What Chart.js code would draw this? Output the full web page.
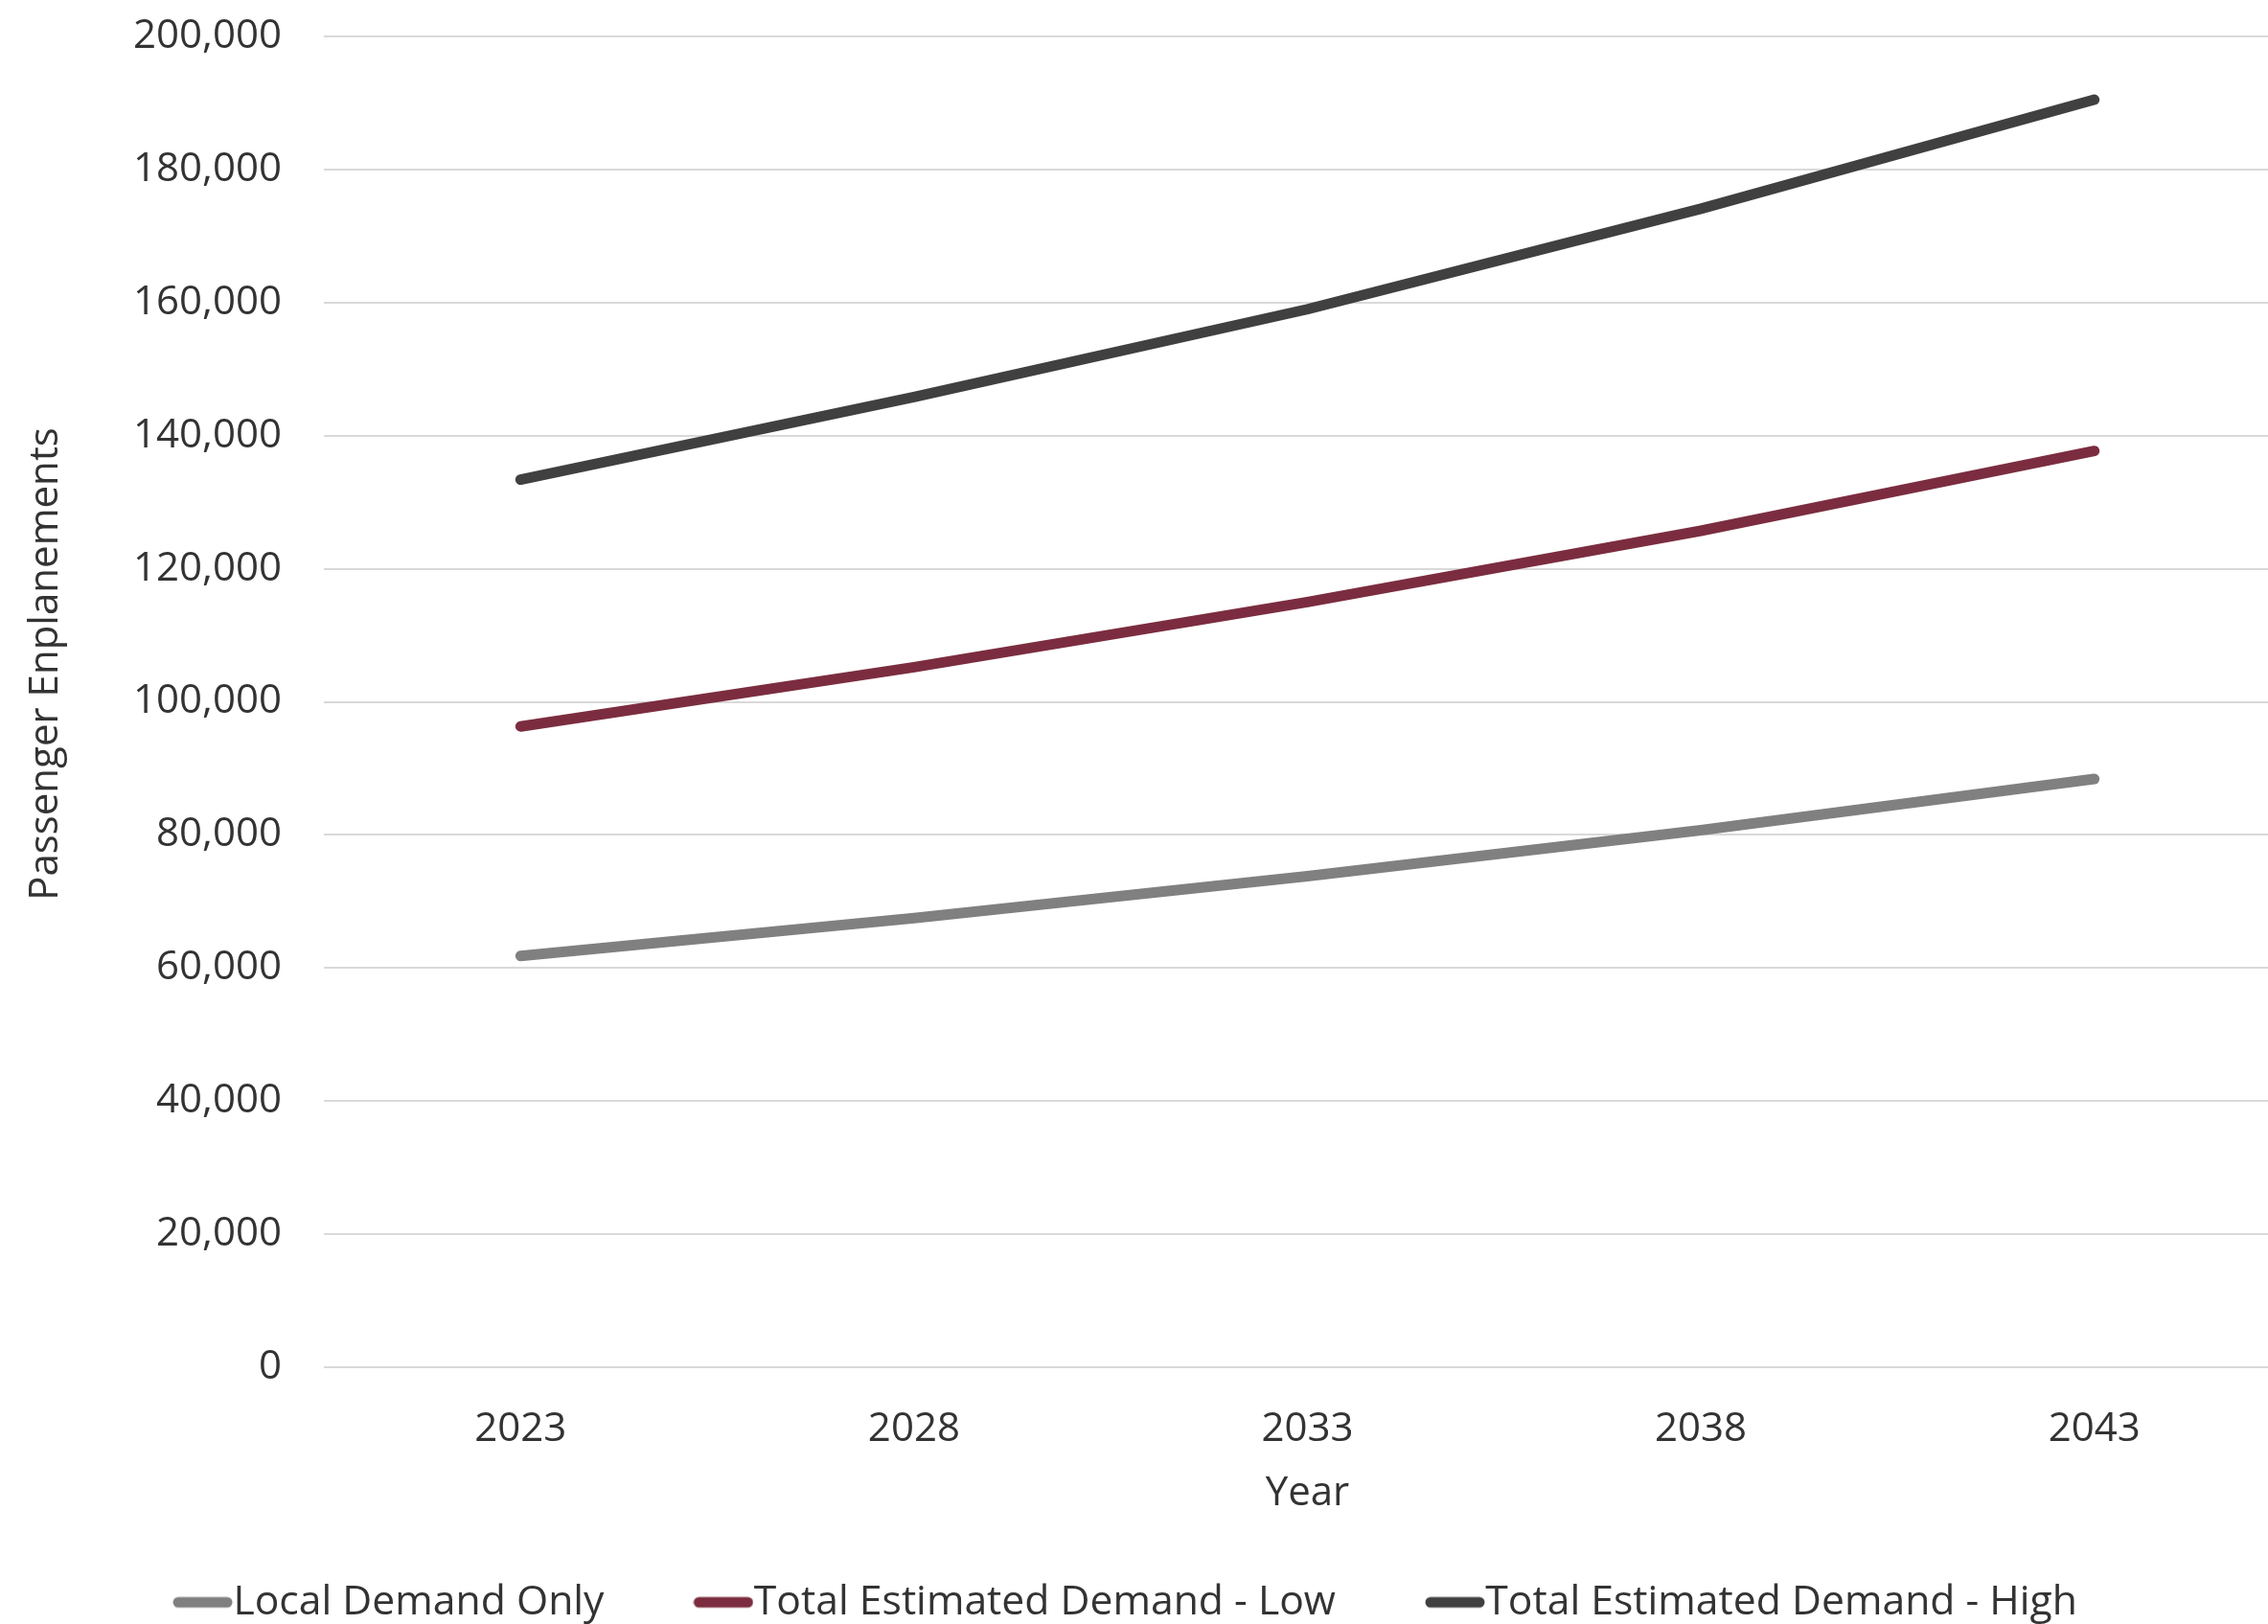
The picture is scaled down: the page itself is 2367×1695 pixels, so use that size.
<!DOCTYPE html>
<html>
<head>
<meta charset="utf-8">
<script src="https://cdn.jsdelivr.net/npm/chart.js@4/dist/chart.umd.min.js"></script>
<style>
  html, body { margin: 0; padding: 0; background: #ffffff; overflow: hidden; }
  #wrap { width: 2391px; height: 1695px; position: relative; }
</style>
</head>
<body>
<div id="wrap"><canvas id="c"></canvas></div>
<script>
const years = ['2023', '2028', '2033', '2038', '2043'];
const localDemand = [61800, 67500, 73800, 80700, 88400];
const totalLow = [96300, 105200, 115000, 125700, 137700];
const totalHigh = [133400, 145800, 159000, 174100, 190500];
const seriesNames = ['Local Demand Only', 'Total Estimated Demand - Low', 'Total Estimated Demand - High'];
const seriesColors = ['#808080', '#7b2d3f', '#404040'];
const yTicks = { min: 0, max: 200000, step: 20000 };

const FONT = "'Open Sans', 'Noto Sans', sans-serif";
const TEXT = '#333333';

// legend marker: short thick rounded line
function makeMarker(color) {
  const cv = document.createElement('canvas');
  cv.width = 63; cv.height = 14;
  const g = cv.getContext('2d');
  g.strokeStyle = color;
  g.lineWidth = 11;
  g.lineCap = 'round';
  g.beginPath();
  g.moveTo(6, 7);
  g.lineTo(57, 7);
  g.stroke();
  return cv;
}
const markers = seriesColors.map(makeMarker);

// fine placement of legend and y-axis title
const placement = {
  id: 'placement',
  afterLayout(chart) {
    const lg = chart.legend;
    if (lg) {
      lg.top -= 48; lg.bottom += 10;
      lg.left -= 11; lg.right -= 11;
    }
    const y = chart.scales.y;
    if (y) { y.bottom -= 79; }
  }
};

const seriesData = [localDemand, totalLow, totalHigh];
new Chart(document.getElementById('c'), {
  type: 'line',
  data: {
    labels: years,
    datasets: seriesNames.map((name, i) => ({
      label: name,
      data: seriesData[i],
      borderColor: seriesColors[i],
      backgroundColor: seriesColors[i],
      borderWidth: 11,
      pointRadius: 0,
      pointHoverRadius: 0,
      tension: 0,
      borderCapStyle: 'round',
      borderJoinStyle: 'round',
      fill: false
    }))
  },
  plugins: [placement],
  options: {
    responsive: true,
    maintainAspectRatio: false,
    animation: false,
    events: [],
    layout: { padding: { top: 38, left: 0, right: 0, bottom: 0 } },
    plugins: {
      tooltip: { enabled: false },
      legend: {
        position: 'bottom',
        align: 'center',
        maxHeight: 110,
        labels: {
          font: { family: FONT, size: 42.7 },
          color: TEXT,
          usePointStyle: true,
          pointStyleWidth: 21,
          boxHeight: 12,
          padding: 114,
          generateLabels(chart) {
            return Chart.defaults.plugins.legend.labels.generateLabels(chart).map(l => ({ ...l, lineWidth: 0, pointStyle: markers[l.datasetIndex] }));
          }
        }
      }
    },
    scales: {
      x: {
        offset: true,
        grid: { display: false, drawTicks: false },
        border: { display: false },
        ticks: { font: { family: FONT, size: 42 }, color: TEXT, padding: 40, maxRotation: 0 },
        title: { display: true, text: 'Year', font: { family: FONT, size: 42 }, color: TEXT, padding: { top: 0, bottom: 1 } },
        afterFit(scale) { scale.height = 158; }
      },
      y: {
        min: yTicks.min,
        max: yTicks.max,
        grid: { color: '#d9d9d9', lineWidth: 2, drawTicks: false },
        border: { display: false },
        ticks: {
          stepSize: yTicks.step,
          font: { family: FONT, size: 42 },
          color: TEXT,
          padding: 44,
          callback: v => Number(v).toLocaleString('en-US')
        },
        title: { display: true, text: 'Passenger Enplanements', font: { family: FONT, size: 42 }, color: TEXT, padding: { top: 23, bottom: 0 } },
        afterFit(scale) { scale.width = 338; scale.paddingTop = 0; scale.paddingBottom = 0; }
      }
    }
  }
});
</script>
</body>
</html>
